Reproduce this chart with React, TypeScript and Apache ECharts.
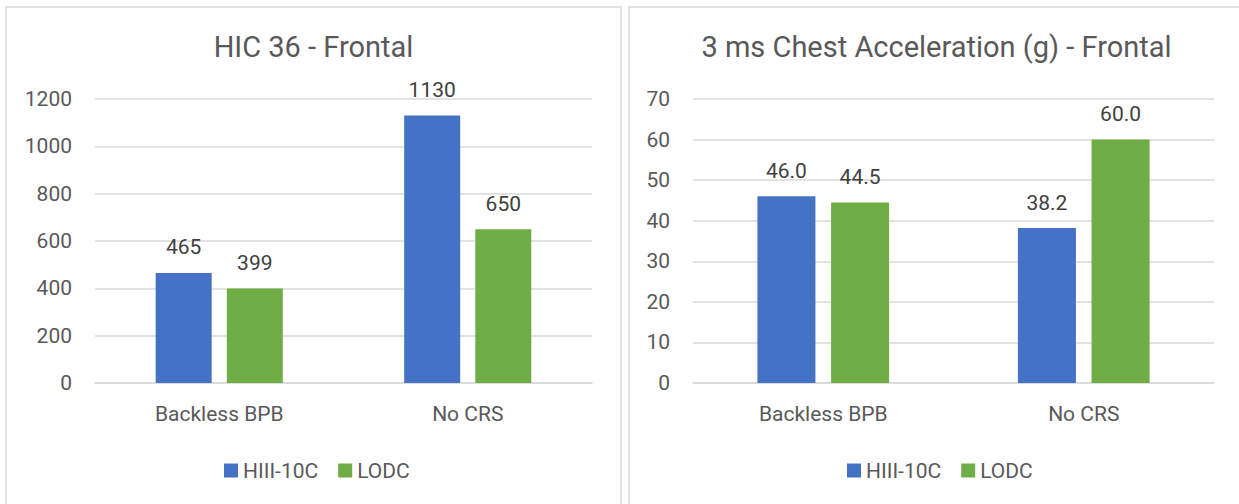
import React, { useEffect, useRef } from "react";
import * as echarts from "echarts";

const categories = ["Backless BPB", "No CRS"];
const seriesNames = ["HIII-10C", "LODC"];
const hicHIII = [465, 1130];
const hicLODC = [399, 650];
const chestHIII = [46.0, 38.2];
const chestLODC = [44.5, 60.0];
const hicTicks = { min: 0, max: 1200, interval: 200 };
const chestTicks = { min: 0, max: 70, interval: 10 };
const titles = ["HIC 36 - Frontal", "3 ms Chest Acceleration (g) - Frontal"];

const BLUE = "#4472C4";
const GREEN = "#70AD47";
const FONT = "Roboto";
const TXT = "#595959";
const GRID = "#d9d9d9";

export default function App() {
  const ref = useRef<HTMLDivElement>(null);
  useEffect(() => {
    if (!ref.current) return;
    const chart = echarts.init(ref.current, undefined, { renderer: "svg" });
    const axisLabel = { color: TXT, fontFamily: FONT, fontSize: 21, lineHeight: 21 };
    const xAxis = (gi: number) => ({
      type: "category",
      gridIndex: gi,
      data: categories,
      axisTick: { show: false },
      axisLine: { show: true, lineStyle: { color: GRID, width: 1.5 } },
      axisLabel: { ...axisLabel, margin: 20, verticalAlign: "top" },
    });
    const yAxis = (gi: number, t: { min: number; max: number; interval: number }) => ({
      type: "value",
      gridIndex: gi,
      min: t.min,
      max: t.max,
      interval: t.interval,
      axisLine: { show: false },
      axisTick: { show: false },
      splitLine: { lineStyle: { color: GRID, width: 1.5 } },
      axisLabel: { ...axisLabel, margin: 23, formatter: (v: number) => String(v) },
    });
    const bar = (
      name: string,
      data: number[],
      color: string,
      idx: number,
      width: number,
      fmt: (v: number) => string
    ) => ({
      type: "bar",
      name,
      data,
      xAxisIndex: idx,
      yAxisIndex: idx,
      barWidth: width,
      barGap: "27%",
      itemStyle: { color },
      label: {
        show: true,
        position: "top",
        distance: 15,
        color: "#404040",
        fontFamily: FONT,
        fontSize: 21,
        lineHeight: 21,
        formatter: (p: any) => fmt(p.value),
      },
    });
    const legend = (left: number) => ({
      left,
      top: 460,
      padding: 0,
      itemWidth: 14,
      itemHeight: 14,
      itemGap: 20,
      icon: "rect",
      data: seriesNames,
      textStyle: { color: TXT, fontFamily: FONT, fontSize: 21 },
    });
    chart.setOption({
      animation: false,
      backgroundColor: "#ffffff",
      title: [
        {
          text: titles[0],
          left: 313.5,
          top: 32.5,
          padding: 0,
          textAlign: "center",
          textStyle: { color: TXT, fontFamily: FONT, fontSize: 29, lineHeight: 29, fontWeight: "normal" },
        },
        {
          text: titles[1],
          left: 936.5,
          top: 32.5,
          padding: 0,
          textAlign: "center",
          textStyle: { color: TXT, fontFamily: FONT, fontSize: 29, lineHeight: 29, fontWeight: "normal" },
        },
      ],
      legend: [legend(224), legend(847)],
      grid: [
        { left: 95, width: 497, top: 99, height: 284 },
        { left: 693, width: 521, top: 99, height: 284 },
      ],
      xAxis: [xAxis(0), xAxis(1)],
      yAxis: [yAxis(0, hicTicks), yAxis(1, chestTicks)],
      series: [
        bar(seriesNames[0], hicHIII, BLUE, 0, 56, (v) => String(v)),
        bar(seriesNames[1], hicLODC, GREEN, 0, 56, (v) => String(v)),
        bar(seriesNames[0], chestHIII, BLUE, 1, 58, (v) => v.toFixed(1)),
        bar(seriesNames[1], chestLODC, GREEN, 1, 58, (v) => v.toFixed(1)),
      ],
      graphic: [
        {
          type: "rect",
          shape: { x: 6, y: 7, width: 615, height: 520 },
          style: { fill: "none", stroke: GRID, lineWidth: 1.5 },
          silent: true,
        },
        {
          type: "rect",
          shape: { x: 629, y: 7, width: 630, height: 520 },
          style: { fill: "none", stroke: GRID, lineWidth: 1.5 },
          silent: true,
        },
      ],
    });
    return () => chart.dispose();
  }, []);
  return (
    <div
      ref={ref}
      style={{ position: "fixed", left: 0, top: 0, width: 1239, height: 504, background: "#fff" }}
    />
  );
}
